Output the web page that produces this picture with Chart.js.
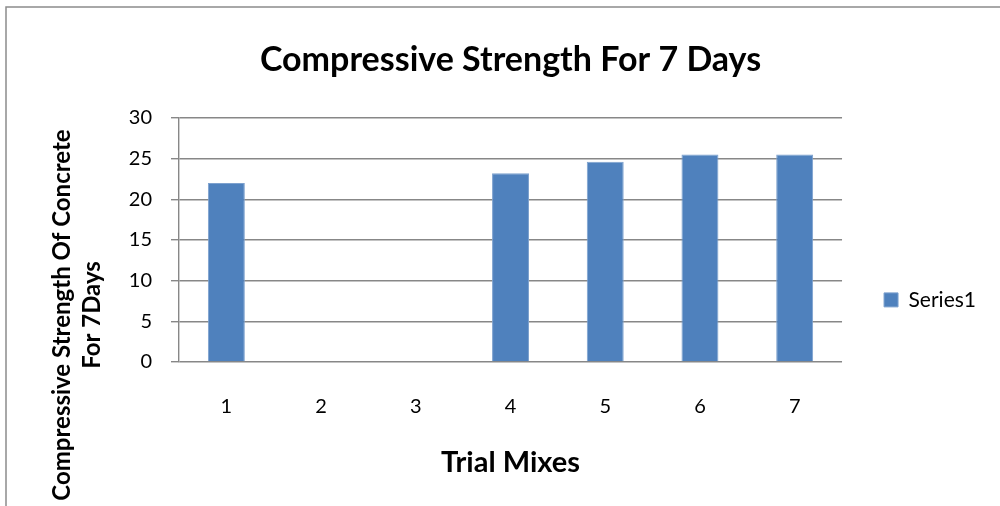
<!DOCTYPE html>
<html>
<head>
<meta charset="utf-8">
<script src="https://cdn.jsdelivr.net/npm/chart.js@4/dist/chart.umd.min.js"></script>
<style>
  html, body { margin: 0; padding: 0; background: #fff; }
  #wrap { width: 1000px; height: 506px; position: relative; }
</style>
</head>
<body>
<div id="wrap"><canvas id="chart" width="1000" height="506"></canvas></div>
<script>
// Trial mix numbers and 7‑day compressive strength (mixes 2 and 3 have no result)
const categories = ['1', '2', '3', '4', '5', '6', '7'];
const series1 = [22, null, null, 23.2, 24.6, 25.5, 25.5];
const seriesName = 'Series1';
const yTicks = [0, 5, 10, 15, 20, 25, 30];

const chartTitle = 'Compressive Strength For 7 Days';
const xTitle = 'Trial Mixes';
const yTitleLines = ['Compressive Strength Of Concrete', 'For 7Days'];

const FONT = 'Lato, "Open Sans", sans-serif';
const GRID = '#878787';

// White page with the thin frame around the chart object
const framePlugin = {
  id: 'frame',
  beforeDraw(chart) {
    const ctx = chart.ctx;
    ctx.save();
    ctx.fillStyle = '#fff';
    ctx.fillRect(0, 0, chart.width, chart.height);
    ctx.strokeStyle = '#8c8c8c';
    ctx.lineWidth = 1.5;
    ctx.strokeRect(6, 7, chart.width + 20, chart.height + 20);
    ctx.restore();
  }
};

// Two-line rotated value-axis title, placed left of the tick labels
const yTitlePlugin = {
  id: 'yTitle',
  afterDraw(chart) {
    const ctx = chart.ctx;
    const area = chart.chartArea;
    ctx.save();
    ctx.fillStyle = '#000';
    ctx.font = 'bold 24px ' + FONT;
    ctx.textAlign = 'center';
    ctx.textBaseline = 'middle';
    const cy = area.bottom - 47;
    const xs = [area.left - 117, area.left - 87];
    yTitleLines.forEach((line, i) => {
      ctx.save();
      ctx.translate(xs[i], cy);
      ctx.rotate(-Math.PI / 2);
      ctx.fillText(line, 0, 0);
      ctx.restore();
    });
    ctx.restore();
  }
};

new Chart(document.getElementById('chart'), {
  type: 'bar',
  data: {
    labels: categories,
    datasets: [{
      label: seriesName,
      data: series1,
      backgroundColor: '#4F81BD',
      borderColor: '#7DA1CE',
      borderWidth: 1,
      categoryPercentage: 1,
      barPercentage: 0.39
    }]
  },
  options: {
    responsive: false,
    animation: false,
    layout: { padding: { left: 0, top: 0, bottom: 0, right: 14 } },
    plugins: {
      title: {
        display: true,
        text: chartTitle,
        fullSize: false,
        color: '#000',
        font: { family: FONT, size: 34, weight: 'bold' },
        padding: { top: 40, bottom: 37 }
      },
      legend: {
        display: true,
        position: 'right',
        align: 'start',
        maxWidth: 144,
        title: { display: true, text: ' ', font: { size: 12 }, padding: { top: 233, bottom: 0 } },
        labels: {
          color: '#000',
          font: { family: FONT, size: 21 },
          boxWidth: 14,
          boxHeight: 14,
          padding: 42
        }
      },
      tooltip: { enabled: false }
    },
    scales: {
      x: {
        grid: { display: false, drawTicks: false },
        border: { display: false },
        ticks: { color: '#000', font: { family: FONT, size: 20 }, padding: 33 },
        title: {
          display: true,
          text: xTitle,
          color: '#000',
          font: { family: FONT, size: 29, weight: 'bold' },
          padding: { top: 0, bottom: 26 }
        },
        afterFit(scale) { scale.height = 144; }
      },
      y: {
        min: 0,
        max: 30,
        afterBuildTicks(scale) { scale.ticks = yTicks.map(v => ({ value: v })); },
        afterFit(scale) { scale.width = 179; },
        grid: { color: GRID, lineWidth: 1.4, tickLength: 8, tickColor: GRID },
        border: { display: true, color: GRID, width: 1.4 },
        ticks: { color: '#000', font: { family: FONT, size: 20 }, padding: 19 }
      }
    }
  },
  plugins: [framePlugin, yTitlePlugin]
});
</script>
</body>
</html>
